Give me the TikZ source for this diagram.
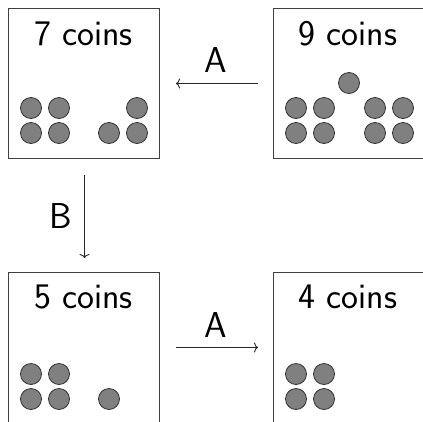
\documentclass[tikz,border=0pt]{standalone}
\usepackage{fontspec}
\usetikzlibrary{arrows.meta}
\begin{document}
\begin{tikzpicture}[x=1pt,y=-1pt,
  box/.style={draw=black!75,line width=1pt,rectangle,inner sep=0pt,anchor=north west,minimum height=150pt},
  title/.style={font=\sffamily\fontsize{36}{40}\selectfont,anchor=base,inner sep=0pt},
  coin/.style={circle,draw=black!80,line width=0.8pt,fill=black!50,minimum size=21pt,inner sep=0pt},
  arr/.style={-{To[length=4pt,width=10pt]},draw=black!85,line width=0.9pt}]
\useasboundingbox (0,0) rectangle (423,421);
\clip (0,0) rectangle (423,421);
% boxes
\node[box,minimum width=151pt] (tl) at (8,8) {};
\node[box,minimum width=153pt] (tr) at (273,8) {};
\node[box,minimum width=151pt] (bl) at (8,272) {};
\node[box,minimum width=153pt] (br) at (273,272) {};
% titles
\node[title] (t7) at (83.5,45) {7 coins};
\node[title] (t9) at (348,45) {9 coins};
\node[title] (t5) at (83.5,308) {5 coins};
\node[title] (t4) at (348,308) {4 coins};
% coins: 7
\node[coin] (a1) at (31,108) {};
\node[coin] (a2) at (59,108) {};
\node[coin] (a3) at (31,133) {};
\node[coin] (a4) at (59,133) {};
\node[coin] (a5) at (137,108) {};
\node[coin] (a6) at (109,133) {};
\node[coin] (a7) at (137,133) {};
% coins: 9
\node[coin] (b0) at (349,83) {};
\node[coin] (b1) at (296,108) {};
\node[coin] (b2) at (324,108) {};
\node[coin] (b3) at (296,133) {};
\node[coin] (b4) at (324,133) {};
\node[coin] (b5) at (375,108) {};
\node[coin] (b6) at (403,108) {};
\node[coin] (b7) at (375,133) {};
\node[coin] (b8) at (403,133) {};
% coins: 5
\node[coin] (c1) at (31,374) {};
\node[coin] (c2) at (59,374) {};
\node[coin] (c3) at (31,399) {};
\node[coin] (c4) at (59,399) {};
\node[coin] (c5) at (109,399) {};
% coins: 4
\node[coin] (d1) at (296,374) {};
\node[coin] (d2) at (324,374) {};
\node[coin] (d3) at (296,399) {};
\node[coin] (d4) at (324,399) {};
% arrows
\draw[arr,shorten <=15pt,shorten >=16pt] (tr.west) -- (tl.east);
\node[title] (la1) at (215.5,72) {A};
\draw[arr,shorten <=16pt,shorten >=14pt] ([xshift=0.5pt]tl.south) -- ([xshift=0.5pt]bl.north);
\node[title,anchor=base east] (lb) at (72,228) {B};
\draw[arr,shorten <=16pt,shorten >=15pt] (bl.east) -- (br.west);
\node[title] (la2) at (215.5,337) {A};
\end{tikzpicture}
\end{document}
